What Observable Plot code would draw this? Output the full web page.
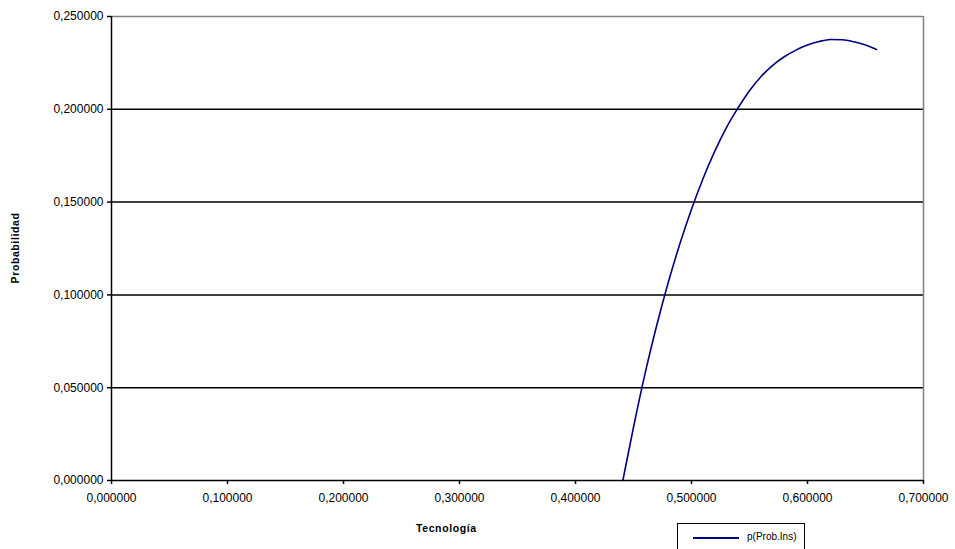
<!DOCTYPE html>
<html>
<head>
<meta charset="utf-8">
<script src="https://cdn.jsdelivr.net/npm/d3@7"></script>
<script src="https://cdn.jsdelivr.net/npm/@observablehq/plot@0.6"></script>
<style>
  html, body { margin: 0; padding: 0; background: #fff; }
  #wrap { position: relative; width: 955px; height: 549px; overflow: hidden; font-family: Arial, "Liberation Sans", sans-serif; }
  #legend { position: absolute; left: 677px; top: 523px; width: 128px; height: 40px; border: 1px solid #000; background: #fff; box-sizing: border-box; }
  #legend .swatch { position: absolute; left: 15px; top: 13px; width: 46px; height: 2px; background: #000080; }
  #legend .name { position: absolute; left: 69px; top: 7px; font-size: 10px; color: #000; white-space: nowrap; }
  .title { position: absolute; font-weight: bold; font-size: 10.5px; color: #000; white-space: nowrap; letter-spacing: 0.6px; }
</style>
</head>
<body>
<div id="wrap">
  <div id="chart"></div>
  <div class="title" id="xtitle" style="left:416px; top:522px;">Tecnología</div>
  <div class="title" id="ytitle" style="left:15px; top:248px; transform: translate(-50%, -50%) rotate(-90deg);">Probabilidad</div>
  <div id="legend"><div class="swatch"></div><div class="name">p(Prob.Ins)</div></div>
</div>
<script>
// Tecnología (x) and p(Prob.Ins) (y)
const tecnologia = [0.4408, 0.45, 0.46, 0.47, 0.48, 0.49, 0.50, 0.51, 0.52, 0.53, 0.54, 0.55, 0.56, 0.57, 0.58, 0.59, 0.60, 0.61, 0.62, 0.63, 0.64, 0.65, 0.6595];
const probabilidad = [0.0, 0.0287, 0.0577, 0.0835, 0.1068, 0.1275, 0.1461, 0.1627, 0.1773, 0.1900, 0.2006, 0.2100, 0.2177, 0.2237, 0.2283, 0.2319, 0.2346, 0.2365, 0.2376, 0.2375, 0.2364, 0.2346, 0.2322];

const xTicks = [0, 0.1, 0.2, 0.3, 0.4, 0.5, 0.6, 0.7];
const yTicks = [0, 0.05, 0.10, 0.15, 0.20, 0.25];
const gridY = [0.05, 0.10, 0.15, 0.20];

const fmt = v => v.toFixed(6).replace(".", ",");
const points = tecnologia.map((x, i) => ({x, y: probabilidad[i]}));

const chart = Plot.plot({
  width: 955,
  height: 549,
  marginLeft: 111,
  marginRight: 32,
  marginTop: 16,
  marginBottom: 69,
  style: {fontFamily: "Arial, 'Liberation Sans', sans-serif", fontSize: "11px", color: "#000", background: "#fff"},
  x: {domain: [0, 0.7]},
  y: {domain: [0, 0.25]},
  marks: [
    Plot.ruleY(gridY, {stroke: "#000", strokeWidth: 1.5}),
    Plot.ruleY([0.25], {stroke: "#808080", strokeWidth: 1.5}),
    Plot.ruleX([0.7], {stroke: "#808080", strokeWidth: 1.5}),
    Plot.line(points, {x: "x", y: "y", stroke: "#000080", strokeWidth: 1.6, curve: "monotone-x"}),
    Plot.ruleX([0], {stroke: "#000", strokeWidth: 1.5}),
    Plot.ruleY([0], {stroke: "#000", strokeWidth: 1.5}),
    Plot.axisX(xTicks, {tickFormat: fmt, tickSize: 4, tickPadding: 9, label: null, stroke: "#000", strokeWidth: 1.5, fontSize: 12, letterSpacing: "0.6px"}),
    Plot.axisY(yTicks, {tickFormat: fmt, tickSize: 4, tickPadding: 4, label: null, stroke: "#000", strokeWidth: 1.5, fontSize: 12, letterSpacing: "0.6px"})
  ]
});
document.getElementById("chart").appendChild(chart);
</script>
</body>
</html>
